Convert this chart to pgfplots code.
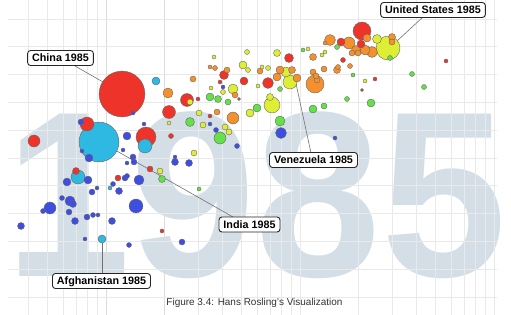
\documentclass[border=0pt]{standalone}
\usepackage{pgfplots}
\usepackage{pgfplotstable}
\pgfplotsset{compat=1.18}
\usepackage{fontspec}
\setmainfont{Liberation Sans}
% 1 red, 2 orange, 3 yellow, 4 green, 5 blue, 6 cyan
\definecolor{c1}{RGB}{238,52,42}
\definecolor{c2}{RGB}{245,145,45}
\definecolor{c3}{RGB}{222,238,52}
\definecolor{c4}{RGB}{100,225,72}
\definecolor{c5}{RGB}{62,78,225}
\definecolor{c6}{RGB}{45,185,225}
\definecolor{wm}{RGB}{211,222,230}
\definecolor{gridc}{RGB}{233,233,233}
\definecolor{gridd}{RGB}{220,220,220}
% x, y = bubble centre (pixels from left / from top), r = radius, c = region colour
\pgfplotstableread{
x y r c
122 94 23 1
99 142 20 6
388 48 12 3
146 137 10 1
362 31 9 1
315 84 9 2
272 105 8 3
290 82 7 3
145 146 7 6
78 177 7 6
136 206 7 5
87 124 7 1
169 112 6.5 1
187 100 6.5 1
34 141 6 1
220 138 6 4
233 118 6 2
349 43 6 2
50 208 6 5
330 40 5.5 2
372 52 5.5 2
268 83 5.5 1
281 133 5.5 5
280 121 5 4
365 50 5 2
233 89 5 3
139 180 5 5
70 201 5 5
286 72 5 3
168 93 5 2
377 39 4.5 3
356 50 4.5 2
190 122 4.5 4
289 58 4.5 1
224 75 4.5 1
244 81 4 1
361 44 4 1
341 42 4 1
367 38 4 2
243 65 4 3
210 97 4 4
280 70 4 2
277 77 4 2
297 78 4 2
257 108 4 4
250 113 4 3
371 103 4 4
313 109 4 4
127 136 4 5
89 158 4 5
67 182 4 5
88 180 4 5
102 239 4 6
156 81 4 6
292 70 3.5 2
313 57 3.5 2
277 53 3.5 3
337 70 3.5 2
392 37 3.5 2
270 97 3.5 3
218 99 3.5 4
119 191 3.5 5
73 204 3.5 5
75 221 3.5 5
112 221 3.5 5
21 226 3.5 5
175 162 3.5 5
189 163 3.5 5
162 179 3.5 4
76 171 3.5 1
392 42 3 2
228 102 3 4
235 95 3 2
203 125 3 3
199 113 3 3
217 112 3 2
225 127 3 3
229 132 3 3
227 70 3 2
260 71 3 2
313 72 3 2
317 80 3 2
324 69 3 2
316 76 3 2
352 53 3 2
358 53 3 2
324 106 3 4
81 122 3 5
133 157 3 5
194 153 3 3
118 178 3 1
125 178 3 5
92 192 3 5
134 162 3 5
150 169 3 1
160 171 3 3
69 212 3 5
87 217 3 5
182 242 3 5
193 79 3 2
190 102 3 3
247 52 2.5 3
248 70 2.5 3
215 68 2.5 2
337 47 2.5 4
390 58 2.5 4
343 60 2.5 1
350 66 2.5 2
412 74 2.5 4
424 87 2.5 4
347 99 2.5 4
268 68 2.5 3
280 89 2.5 4
338 67 2.5 2
171 136 2.5 1
216 130 2.5 5
237 146 2.5 5
223 92 2.5 3
62 198 2.5 5
43 211 2.5 5
93 215 2.5 5
127 176 2.5 5
113 184 2.5 5
129 245 2.5 5
303 50 2 4
308 49 2 3
322 55 2 3
325 52 2 3
325 43 2 2
446 61 2 1
365 81 2 3
375 79 2 1
353 75 2 4
262 67 2 3
258 86 2 3
335 138 2 5
214 57 2 3
210 67 2 2
198 99 2 1
220 82 2 1
223 87 2 5
211 88 2 3
169 123 2 3
210 116 2 1
210 124 2 5
144 124 2 5
133 113 2 5
175 157 2 5
123 150 2 5
82 151 2 5
127 163 2 5
97 188 2 5
110 188 2 6
199 189 2 4
98 215 2 5
85 239 2 5
162 231 2 1
362 90 1.5 1
239 99 1.5 1
}\bubbles
\begin{document}
\begin{tikzpicture}
\begin{axis}[
  at={(0,0)}, anchor=south west,
  width=511bp, height=315bp, scale only axis,
  xmin=0, xmax=511, ymin=0, ymax=315, y dir=reverse,
  hide axis, clip=false,
]
\path (axis cs:0,0) rectangle (axis cs:511,315);
% watermark year
\node[anchor=base, inner sep=0pt, text=wm, font=\fontsize{237}{237}\selectfont\bfseries] at (axis cs:256,276) {\scalebox{0.955}[1]{1985}};
% grid (log income / life expectancy)
\pgfplotsinvokeforeach{28.4,47.6,63,76,87.3,97.2,198.6,222.8,241.6,257,270,281.2,291.2,300,358.4,392.6,416.8,435.6,451,464,475.2,485.1,494}{
  \draw[gridc, line width=0.8bp] (axis cs:#1,0) -- (axis cs:#1,315);
}
\pgfplotsinvokeforeach{106,164.4}{
  \draw[gridd, line width=0.9bp] (axis cs:#1,0) -- (axis cs:#1,315);
}
\pgfplotsinvokeforeach{19,46.8,74.6,102.4,130.2,158,185.8,213.6,241.4,269.2,297}{
  \draw[gridc, line width=0.8bp] (axis cs:8,#1) -- (axis cs:497,#1);
}
\addplot[scatter, only marks, mark=*,
  visualization depends on={\thisrow{r} \as \rr},
  visualization depends on={\thisrow{c} \as \cc},
  scatter/@pre marker code/.code={\pgfmathtruncatemacro\ci{\cc}\scope[mark size=\rr, fill=c\ci, draw=black!60, line width=0.4bp]},
  scatter/@post marker code/.code={\endscope},
] table[x=x, y=y] {\bubbles};
% connectors
\draw[black!55, line width=0.6bp] (axis cs:75,66) -- (axis cs:103,82);
\draw[black!55, line width=0.6bp] (axis cs:423,17) -- (axis cs:397,41);
\draw[black!55, line width=0.6bp] (axis cs:311,153) -- (axis cs:295,79);
\draw[black!55, line width=0.6bp] (axis cs:233,217) -- (axis cs:115,150);
\draw[black!55, line width=0.6bp] (axis cs:102,274) -- (axis cs:102,243);
% labels
\tikzset{lab/.style={draw=black!85, fill=white, rounded corners=3bp, line width=0.9bp,
  inner xsep=4.5bp, inner ysep=3.6bp, text height=7.8bp, text depth=0bp,
  font=\fontsize{10.8}{12}\selectfont\bfseries}}
\node[lab] at (axis cs:60.5,58) {China 1985};
\node[lab] at (axis cs:433,10) {United States 1985};
\node[lab] at (axis cs:313.5,160) {Venezuela 1985};
\node[lab] at (axis cs:249.5,224.5) {India 1985};
\node[lab] at (axis cs:101.5,281) {Afghanistan 1985};
\node[font=\fontsize{10}{12}\selectfont, text=black!80, inner sep=0pt] at (axis cs:254.5,303) {Figure 3.4: Hans Rosling's Visualization};
\end{axis}
\pgfresetboundingbox
\path (0,0) rectangle (511bp,315bp);
\end{tikzpicture}
\end{document}
